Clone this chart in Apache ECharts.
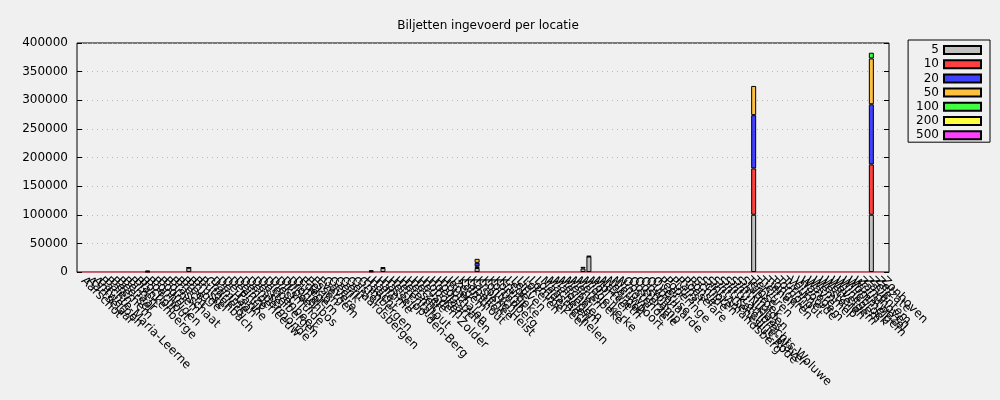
<!DOCTYPE html>
<html><head><meta charset="utf-8">
<script src="https://cdn.jsdelivr.net/npm/echarts@6/dist/echarts.min.js"></script>
<style>html,body{margin:0;padding:0;background:#f0f0f0}#c{width:1000px;height:400px}</style>
</head><body><div id="c"></div>
<script>
const locations = ["Aarschot","Aartselaar","Antwerpen","Bachte-Maria-Leerne","Balen","Beernem","Beersel","Berlaar","Bilzen","Blankenberge","Bocholt","Boechout","Bonheiden","Boom","Bornem","Brasschaat","Brecht","Bree","Brugge","Brussel","Bütgenbach","Charleroi","Damme","De Haan","De Panne","Deerlijk","Deinze","Denderleeuw","Dendermonde","Dessel","Destelbergen","Diepenbeek","Diest","Diksmuide","Dilbeek","Drogenbos","Duffel","Edegem","Eeklo","Essen","Evergem","Gavere","Geel","Genk","Gent","Geraardsbergen","Gistel","Grimbergen","Haacht","Halle","Hamme","Hasselt","Heist-op-den-Berg","Herentals","Herenthout","Herselt","Herzele","Heusden-Zolder","Hoboken","Hoeilaart","Hoogstraten","Houthalen","Ieper","Izegem","Kalmthout","Kapellen","Kasterlee","Knokke-Heist","Kontich","Kortenberg","Kortrijk","Kruibeke","Lede","Leuven","Lier","Lokeren","Lommel","Londerzeel","Maasmechelen","Machelen","Maldegem","Mechelen","Meise","Menen","Merelbeke","Middelkerke","Mol","Mortsel","Nazareth","Neerpelt","Nieuwpoort","Ninove","Oostende","Oosterzele","Oostkamp","Opwijk","Oudenaarde","Overijse","Peer","Poperinge","Puurs","Ranst","Roeselare","Ronse","Schilde","Schoten","Sint-Amandsberg","Sint-Genesius-Rode","Sint-Katelijne-Waver","Sint-Lambrechts-Woluwe","Sint-Niklaas","Sint-Truiden","Stabroek","Temse","Tervuren","Tielt","Tienen","Tongeren","Torhout","Turnhout","Veurne","Vilvoorde","Waregem","Wavre","Wemmel","Westerlo","Wetteren","Wevelgem","Wijnegem","Willebroek","Wommelgem","Wuustwezel","Zandhoven","Zaventem","Zele","Zelzate","Zonhoven"];

// locations with non-zero counts; all other locations have 0
const activeLocations = ["Boechout","Brugge","Halle","Hasselt","Knokke-Heist","Middelkerke","Mol","Tervuren","Zele"];
const denominations = ["5","10","20","50","100","200","500"];
const v5   = [500, 7500, 1000, 7000, 7000, 6000, 27000, 100000, 100000];
const v10  = [2000, 500, 2000, 1000, 3000, 3000, 1000, 81000, 88000];
const v20  = [0, 0, 0, 0, 6000, 0, 0, 93000, 105000];
const v50  = [0, 0, 0, 0, 7000, 0, 0, 51000, 80000];
const v100 = [0, 0, 0, 0, 0, 0, 0, 0, 10000];
const v200 = [0, 0, 0, 0, 0, 0, 0, 0, 0];
const v500 = [0, 0, 0, 0, 0, 0, 0, 0, 0];
const yTicks = [0,50000,100000,150000,200000,250000,300000,350000,400000];

const valuesByDenom = [v5, v10, v20, v50, v100, v200, v500];
const colors = ["#c0c0c0","#ff4040","#4040ff","#ffc040","#40ff40","#ffff40","#ff40ff"];

// padded category list: one empty slot at each end so the frame spans one category beyond the data
const cats = [''].concat(locations).concat(['']);

function fullSeries(vals){
  return cats.map((name)=>{
    const k = activeLocations.indexOf(name);
    const v = k>=0 ? vals[k] : 0;
    return v>0 ? v : '-';
  });
}

const FONT = "DejaVu Sans";
const chart = echarts.init(document.getElementById('c'), null, {renderer:'canvas'});
const series = denominations.map((d,j)=>({
  name: d, type:'bar', stack:'total', barWidth: 5, z: 3,
  data: fullSeries(valuesByDenom[j]),
  itemStyle:{color: colors[j], borderColor:'#000', borderWidth:1},
  emphasis:{disabled:true}, animation:false
}));

chart.setOption({
  backgroundColor:'#f0f0f0',
  animation:false,
  textStyle:{fontFamily:FONT},
  title:{text:'Biljetten ingevoerd per locatie', left:483, top:15, textAlign:'center',
    textStyle:{fontFamily:FONT, fontSize:12, fontWeight:'normal', color:'#000'}},
  legend:{orient:'vertical', right:10, top:40, align:'right', icon:'rect',
    itemWidth:37, itemHeight:8, itemGap:0.2, padding:[3,8,0,8],
    borderColor:'#000', borderWidth:1,
    textStyle:{fontFamily:FONT, fontSize:12, color:'#000', lineHeight:14},
    data: denominations},
  grid:{left:77, right:111, top:43, bottom:128, show:true, borderColor:'#000', borderWidth:1},
  xAxis:{type:'category', data:cats, boundaryGap:false,
    axisLine:{show:true, lineStyle:{color:'#c86878', width:1}},
    axisTick:{show:false}, splitLine:{show:false},
    axisLabel:{rotate:-45, interval:0, margin:7, fontFamily:FONT, fontSize:12, color:'#000'}},
  yAxis:[{type:'value', min:yTicks[0], max:yTicks[yTicks.length-1], interval:50000,
    axisLine:{show:false},
    axisTick:{show:true, inside:true, length:5, lineStyle:{color:'#000'}},
    axisLabel:{margin:9, fontFamily:FONT, fontSize:12, color:'#000', formatter:(v)=>String(v)},
    splitLine:{show:true, lineStyle:{color:'#b8b8b8', type:[1,4], width:1}}},
   {type:'value', position:'right', min:yTicks[0], max:yTicks[yTicks.length-1], interval:50000,
    axisLine:{show:false}, axisLabel:{show:false}, splitLine:{show:false},
    axisTick:{show:true, inside:true, length:5, lineStyle:{color:'#000'}}}],
  series: series
});
</script></body></html>
